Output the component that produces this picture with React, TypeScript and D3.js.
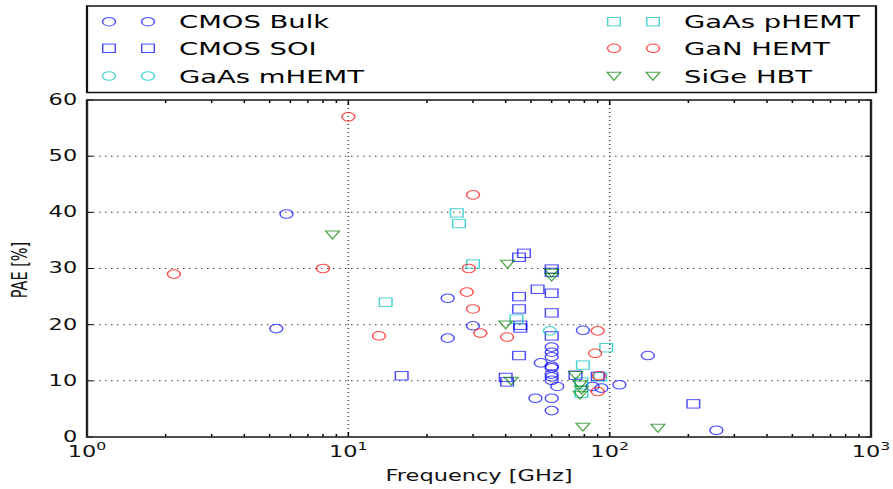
import * as d3 from 'd3';

// Frequency in GHz, PAE in %
const cmosBulkFreq = [5.3, 5.8, 24, 24, 30, 52, 54.5, 60, 60, 60, 60, 60, 60, 60, 60, 60, 60, 63, 79, 86, 93, 109, 140, 256];
const cmosBulkPae = [19.3, 39.7, 24.7, 17.6, 19.8, 6.9, 13.2, 16.0, 15.1, 14.3, 12.6, 12.3, 11.2, 10.7, 10.1, 6.9, 4.7, 9.0, 19.0, 9.0, 8.7, 9.3, 14.5, 1.2];

const cmosSoiFreq = [16, 40, 40.5, 45, 47, 45, 45, 45.5, 45.5, 45, 53, 60, 60, 60, 60, 60, 74, 90, 209];
const cmosSoiPae = [10.9, 10.6, 9.8, 32.0, 32.7, 25.0, 22.8, 19.9, 19.4, 14.5, 26.3, 29.9, 29.3, 25.6, 22.1, 18.0, 11.0, 10.8, 5.9];

const gaasMhemtFreq = [59];
const gaasMhemtPae = [18.9];

const gaasPhemtFreq = [13.9, 26, 26.5, 30, 44, 79, 97, 92, 78, 78];
const gaasPhemtPae = [24.0, 39.9, 38.0, 30.8, 21.0, 12.8, 15.9, 10.7, 9.8, 7.8];

const ganHemtFreq = [2.15, 8.0, 10, 13.1, 30, 28.9, 28.4, 30, 32, 40.5, 90, 88, 91, 90];
const ganHemtPae = [29.0, 30.0, 57.0, 18.0, 43.1, 30.0, 25.8, 22.8, 18.5, 17.8, 18.9, 14.9, 10.9, 8.1];

const sigeHbtFreq = [8.7, 40.7, 40, 42, 60, 60, 74, 77, 77, 78, 79, 153];
const sigeHbtPae = [36.0, 30.8, 20.0, 10.0, 29.2, 28.5, 11.0, 9.3, 7.5, 8.4, 1.8, 1.6];

const xTicks = [1, 10, 100, 1000];
const yTicks = [0, 10, 20, 30, 40, 50, 60];

type Shape = 'circle' | 'square' | 'tri';

const series = [
  { label: 'CMOS Bulk', freq: cmosBulkFreq, pae: cmosBulkPae, shape: 'circle' as Shape, color: '#0000ff' },
  { label: 'CMOS SOI', freq: cmosSoiFreq, pae: cmosSoiPae, shape: 'square' as Shape, color: '#0000ff' },
  { label: 'GaAs mHEMT', freq: gaasMhemtFreq, pae: gaasMhemtPae, shape: 'circle' as Shape, color: '#00bfbf' },
  { label: 'GaAs pHEMT', freq: gaasPhemtFreq, pae: gaasPhemtPae, shape: 'square' as Shape, color: '#00bfbf' },
  { label: 'GaN HEMT', freq: ganHemtFreq, pae: ganHemtPae, shape: 'circle' as Shape, color: '#ff0000' },
  { label: 'SiGe HBT', freq: sigeHbtFreq, pae: sigeHbtPae, shape: 'tri' as Shape, color: '#008000' },
];

// the picture is stretched sideways, so draw in a narrower box and let the svg stretch it
const W = 893;
const H = 489;
const SX = 1.5;
const VW = W / SX;
const FONT = '"DejaVu Sans", sans-serif';

const x = d3.scaleLog().domain([1, 1000]).range([87 / SX, 871 / SX]);
const y = d3.scaleLinear().domain([0, 60]).range([437, 100]);

function Marker({ shape, cx, cy, color }: { shape: Shape; cx: number; cy: number; color: string }) {
  const common = { fill: 'none', stroke: color, strokeWidth: 1, strokeOpacity: 0.7 };
  if (shape === 'circle') return <circle cx={cx} cy={cy} r={4.3} {...common} />;
  if (shape === 'square') return <rect x={cx - 4.2} y={cy - 4.2} width={8.4} height={8.4} {...common} />;
  const s = 4.6;
  return <path d={`M${cx - s},${cy - s * 0.8}L${cx + s},${cy - s * 0.8}L${cx},${cy + s * 0.9}Z`} {...common} />;
}

export default function App() {
  const [x0, x1] = x.range();
  const [y0, y1] = y.range();
  const minor: number[] = [];
  for (const dec of [1, 10, 100]) for (let k = 2; k <= 9; k++) minor.push(dec * k);

  const legendCols = [
    { mx: [109, 148], tx: 179 },
    { mx: [614, 653], tx: 684 },
  ];
  const rowY = [21.7, 48.3, 76];

  return (
    <svg
      width={W}
      height={H}
      viewBox={`0 0 ${VW} ${H}`}
      preserveAspectRatio="none"
      style={{ position: 'absolute', left: 0, top: 0, background: '#fff' }}
      fontFamily={FONT}
    >
      <rect width={VW} height={H} fill="#fff" />

      {/* grid */}
      <g stroke="#444" strokeWidth={1} strokeDasharray="1,3">
        {xTicks.slice(1, -1).map(t => (
          <line key={`gx${t}`} x1={x(t)} x2={x(t)} y1={y1} y2={y0} />
        ))}
        {yTicks.slice(1, -1).map(t => (
          <line key={`gy${t}`} x1={x0} x2={x1} y1={y(t)} y2={y(t)} />
        ))}
      </g>

      {/* points */}
      {series.map(s => (
        <g key={s.label}>
          {s.freq.map((f, i) => (
            <Marker key={i} shape={s.shape} cx={x(f)} cy={y(s.pae[i])} color={s.color} />
          ))}
        </g>
      ))}

      {/* ticks */}
      <g stroke="#000" strokeWidth={1}>
        {xTicks.map(t => (
          <g key={`tx${t}`}>
            <line x1={x(t)} x2={x(t)} y1={y0} y2={y0 - 5} />
            <line x1={x(t)} x2={x(t)} y1={y1} y2={y1 + 5} />
          </g>
        ))}
        {minor.map(t => (
          <g key={`mx${t}`}>
            <line x1={x(t)} x2={x(t)} y1={y0} y2={y0 - 3} />
            <line x1={x(t)} x2={x(t)} y1={y1} y2={y1 + 3} />
          </g>
        ))}
        {yTicks.map(t => (
          <g key={`ty${t}`}>
            <line x1={x0} x2={x0 + 4} y1={y(t)} y2={y(t)} />
            <line x1={x1} x2={x1 - 4} y1={y(t)} y2={y(t)} />
          </g>
        ))}
      </g>

      {/* frame */}
      <rect x={x0} y={y1} width={x1 - x0} height={y0 - y1} fill="none" stroke="#222" strokeWidth={1.6} />

      {/* tick labels */}
      <g fontSize={15} fill="#111">
        {yTicks.map(t => (
          <text key={`ly${t}`} x={x0 - 6.5} y={y(t) + 5} textAnchor="end">{t}</text>
        ))}
        {xTicks.map(t => (
          <text key={`lx${t}`} x={x(t)} y={457} textAnchor="middle">
            10<tspan dy={-7} fontSize={10.5}>{Math.round(Math.log10(t))}</tspan>
          </text>
        ))}
      </g>

      {/* axis labels */}
      <text x={(x0 + x1) / 2} y={481} textAnchor="middle" fontSize={15} fill="#111">Frequency [GHz]</text>
      <text transform={`translate(${27 / SX},${270}) rotate(-90)`} textAnchor="middle" fontSize={14.5} fill="#111">PAE [%]</text>

      {/* legend */}
      <rect x={87 / SX} y={6} width={(876 - 87) / SX} height={86.5} fill="#fff" stroke="#111" strokeWidth={1.5} />
      {series.map((s, i) => {
        const col = legendCols[Math.floor(i / 3)];
        const ry = rowY[i % 3];
        return (
          <g key={`leg${s.label}`}>
            {col.mx.map(mx => (
              <Marker key={mx} shape={s.shape} cx={mx / SX} cy={ry} color={s.color} />
            ))}
            <text x={col.tx / SX} y={ry + 6.6} fontSize={18.3} fill="#000">{s.label}</text>
          </g>
        );
      })}
    </svg>
  );
}
